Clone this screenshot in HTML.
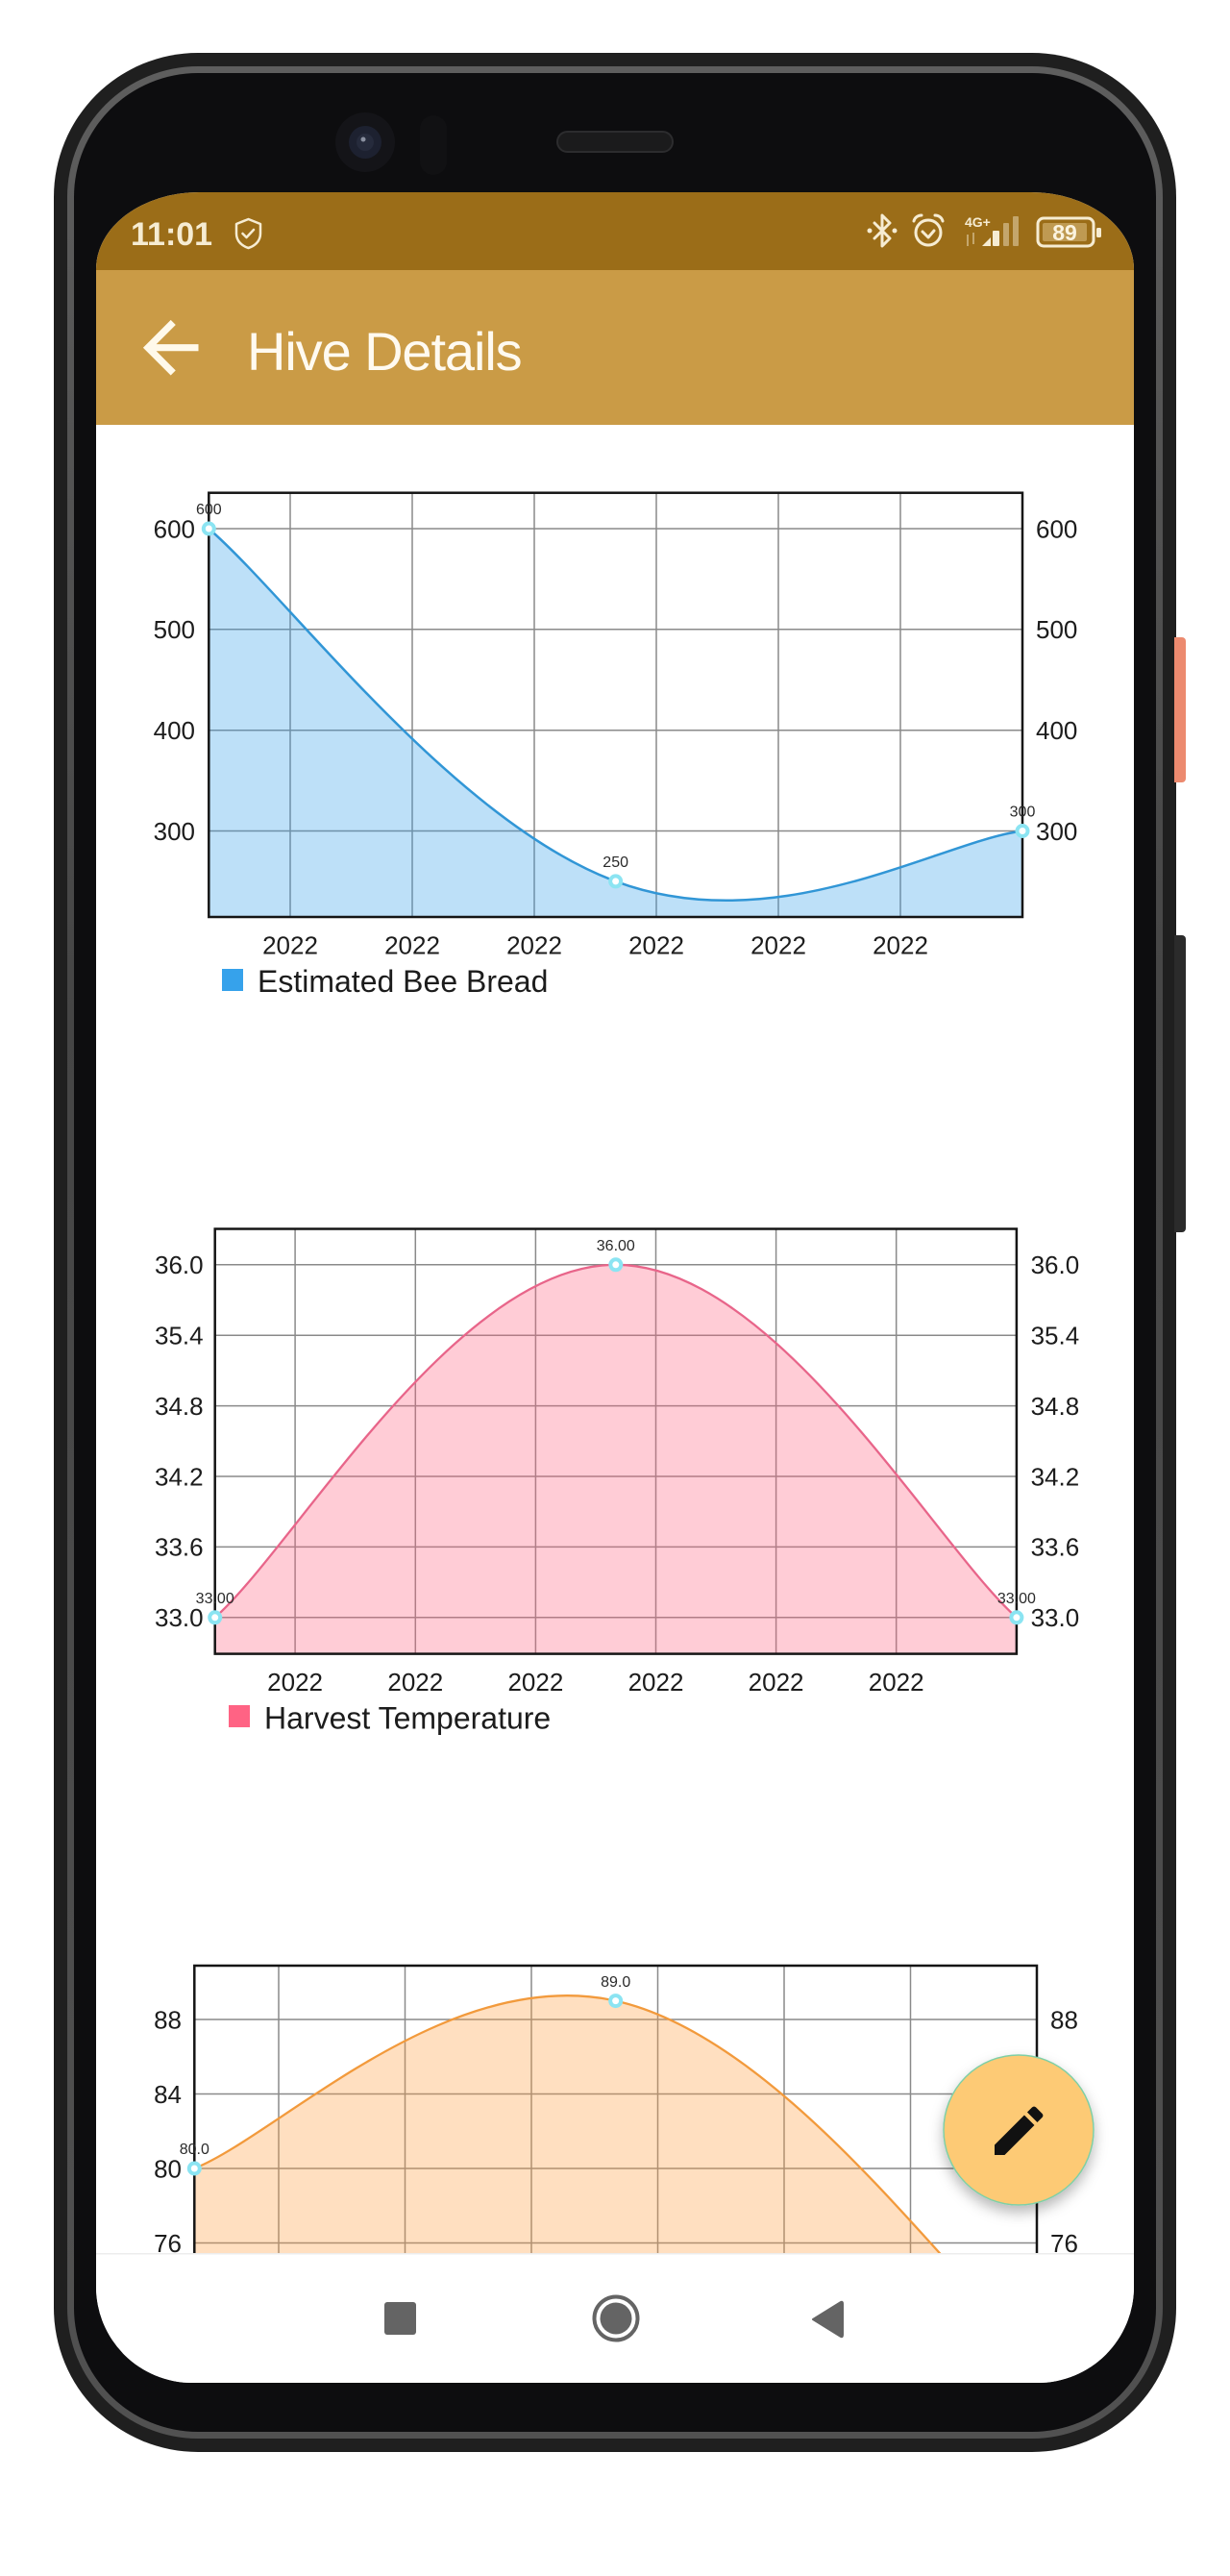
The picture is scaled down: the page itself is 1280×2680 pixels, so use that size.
<!DOCTYPE html>
<html>
<head>
<meta charset="utf-8">
<style>
  html, body { margin:0; padding:0; background:#fff; }
  body { width:1280px; height:2680px; position:relative; overflow:hidden; font-family:"Liberation Sans", sans-serif; }
  .abs { position:absolute; }
  .phone { left:56px; top:55px; width:1168px; height:2496px; border-radius:150px; background:#1f1f1f; }
  .ring { left:70px; top:69px; width:1140px; height:2468px; border-radius:136px; background:linear-gradient(180deg,#5e5e5e,#454545 40%,#515151); }
  .inner { left:77px; top:76px; width:1126px; height:2454px; border-radius:129px; background:#0d0d0f; }
  .btn1 { left:1222px; top:663px; width:12px; height:151px; background:#ec8a6f; border-radius:0 4px 4px 0; }
  .btn2 { left:1222px; top:973px; width:12px; height:309px; background:#2b2b2b; border-radius:0 4px 4px 0; }
  .screen { left:100px; top:200px; width:1080px; height:2279px; overflow:hidden; background:#fff;
            border-radius:107px 107px 100px 100px / 80px 80px 100px 100px; }
</style>
</head>
<body>
<div class="abs phone"></div>
<div class="abs ring"></div>
<div class="abs inner"></div>
<div class="abs btn1"></div>
<div class="abs btn2"></div>

<!-- front camera / sensor / speaker -->
<svg class="abs" style="left:0;top:0" width="1280" height="200" viewBox="0 0 1280 200">
  <circle cx="380" cy="148" r="31" fill="#141418"/>
  <circle cx="380" cy="148" r="17" fill="#1d2130"/>
  <circle cx="380" cy="148" r="9" fill="#262b3c"/>
  <circle cx="378" cy="145" r="2.5" fill="#8a90a0"/>
  <rect x="437" y="120" width="28" height="62" rx="14" fill="#111113"/>
  <rect x="580" y="137" width="120" height="21" rx="10.5" fill="#1b1b1c" stroke="#2c2c2e" stroke-width="2"/>
</svg>

<div class="abs screen">
<svg width="1080" height="2279" viewBox="100 200 1080 2279" style="position:absolute;left:0;top:0">
  <defs>
    <filter id="sh" x="-30%" y="-30%" width="160%" height="170%">
      <feDropShadow dx="0" dy="7" stdDeviation="7" flood-color="#000" flood-opacity="0.28"/>
    </filter>
  </defs>
  <!-- status bar & app bar -->
  <rect x="100" y="200" width="1080" height="81" fill="#9b6d18"/>
  <rect x="100" y="281" width="1080" height="161" fill="#ca9b46"/>

  <!-- status left -->
  <text x="136" y="255" font-family="Liberation Sans, sans-serif" font-weight="bold" font-size="34" fill="#f6ecd2">11:01</text>
  <path d="M258.5 228 L271 233 V243 C271 251 265 256 258.5 258 C252 256 246 251 246 243 V233 Z" fill="none" stroke="#f6ecd2" stroke-width="2.5" stroke-linejoin="round"/>
  <path d="M252.5 243 l4 4 l7.5 -8" fill="none" stroke="#f6ecd2" stroke-width="2.5" stroke-linecap="round" stroke-linejoin="round"/>

  <!-- status right -->
  <g fill="none" stroke="#f6ecd2" stroke-width="3" stroke-linejoin="round" stroke-linecap="round">
    <path d="M910 232 L926 248 L918 256 L918 224 L926 232 L910 248"/>
    <circle cx="966" cy="242" r="13"/>
    <path d="M960 241 l6 6 l6 -7"/>
    <path d="M951 230 a8 8 0 0 1 8 -6"/>
    <path d="M981 230 a8 8 0 0 0 -8 -6"/>
    <rect x="1080" y="227" width="58" height="29" rx="6"/>
  </g>
  <circle cx="905" cy="240" r="2.5" fill="#f6ecd2"/>
  <circle cx="931" cy="240" r="2.5" fill="#f6ecd2"/>
  <text x="1004" y="236" font-family="Liberation Sans, sans-serif" font-weight="bold" font-size="14" fill="#f6ecd2">4G+</text>
  <g fill="#f6ecd2" opacity="0.45">
    <rect x="1006" y="244" width="2" height="12"/>
    <rect x="1012" y="242" width="2" height="12"/>
    <rect x="1044" y="232" width="6" height="24" rx="1"/>
    <rect x="1054" y="225" width="6" height="31" rx="1"/>
  </g>
  <path d="M1022 256 L1031 247 L1031 256 Z" fill="#f6ecd2"/>
  <rect x="1033" y="240" width="7" height="16" rx="1" fill="#f6ecd2"/>
  <rect x="1085" y="232" width="46" height="19" rx="2" fill="#bf9a52"/>
  <rect x="1141" y="237" width="5" height="10" rx="1.5" fill="#f6ecd2"/>
  <text x="1108" y="250" text-anchor="middle" font-family="Liberation Sans, sans-serif" font-weight="bold" font-size="23" fill="#fbf3df">89</text>

  <!-- app bar -->
  <g transform="translate(134.5 318.5) scale(3.6)">
    <path d="M20 11H7.830l5.59-5.59L12 4l-8 8 8 8 1.41-1.41L7.83 13H20v-2z" fill="#fff9ea"/>
  </g>
  <text x="257" y="385" font-family="Liberation Sans, sans-serif" font-size="56" letter-spacing="-1.1" fill="#fffaf0">Hive Details</text>

  <!-- ================= CHART 1 ================= -->
  <g stroke="#8a8a8a" stroke-width="1.5">
    <line x1="217.3" y1="550" x2="1064" y2="550"/>
    <line x1="217.3" y1="654.8" x2="1064" y2="654.8"/>
    <line x1="217.3" y1="759.7" x2="1064" y2="759.7"/>
    <line x1="217.3" y1="864.5" x2="1064" y2="864.5"/>
    <line x1="302" y1="512.7" x2="302" y2="954"/>
    <line x1="429" y1="512.7" x2="429" y2="954"/>
    <line x1="556" y1="512.7" x2="556" y2="954"/>
    <line x1="683" y1="512.7" x2="683" y2="954"/>
    <line x1="810" y1="512.7" x2="810" y2="954"/>
    <line x1="937" y1="512.7" x2="937" y2="954"/>
  </g>
  <path d="M217.3,550 C302,623.4 471.3,854 640.65,916.9 C810,979.8 979.3,875 1064,864.5 L1064,954 L217.3,954 Z" fill="#36a2eb" fill-opacity="0.33"/>
  <path d="M217.3,550 C302,623.4 471.3,854 640.65,916.9 C810,979.8 979.3,875 1064,864.5" fill="none" stroke="#3196d6" stroke-width="2.5"/>
  <rect x="217.3" y="512.7" width="846.7" height="441.3" fill="none" stroke="#151515" stroke-width="2.5"/>
  <g font-family="Liberation Sans, sans-serif" font-size="26" fill="#1c1c1c">
    <g text-anchor="end">
      <text x="203" y="559.3">600</text>
      <text x="203" y="664.1">500</text>
      <text x="203" y="769">400</text>
      <text x="203" y="873.8">300</text>
    </g>
    <text x="1078" y="559.3">600</text>
    <text x="1078" y="664.1">500</text>
    <text x="1078" y="769">400</text>
    <text x="1078" y="873.8">300</text>
    <g text-anchor="middle">
      <text x="302" y="992.7">2022</text>
      <text x="429" y="992.7">2022</text>
      <text x="556" y="992.7">2022</text>
      <text x="683" y="992.7">2022</text>
      <text x="810" y="992.7">2022</text>
      <text x="937" y="992.7">2022</text>
    </g>
  </g>
  <g font-family="Liberation Sans, sans-serif" font-size="16" fill="#2a2a2a" text-anchor="middle">
    <text x="217.3" y="535">600</text>
    <text x="640.65" y="902">250</text>
    <text x="1064" y="849.5">300</text>
  </g>
  <g fill="#8be4f2">
    <circle cx="217.3" cy="550" r="7.5"/>
    <circle cx="640.65" cy="916.9" r="7.5"/>
    <circle cx="1064" cy="864.5" r="7.5"/>
  </g>
  <g fill="#fff">
    <circle cx="217.3" cy="550" r="3.5"/>
    <circle cx="640.65" cy="916.9" r="3.5"/>
    <circle cx="1064" cy="864.5" r="3.5"/>
  </g>
  <rect x="231" y="1008" width="22" height="23" fill="#36a2eb"/>
  <text x="268" y="1032" font-family="Liberation Sans, sans-serif" font-size="32" fill="#1c1c1c">Estimated Bee Bread</text>

  <!-- ================= CHART 2 ================= -->
  <g stroke="#8a8a8a" stroke-width="1.5">
    <line x1="223.7" y1="1315.8" x2="1057.9" y2="1315.8"/>
    <line x1="223.7" y1="1389.2" x2="1057.9" y2="1389.2"/>
    <line x1="223.7" y1="1462.6" x2="1057.9" y2="1462.6"/>
    <line x1="223.7" y1="1536" x2="1057.9" y2="1536"/>
    <line x1="223.7" y1="1609.4" x2="1057.9" y2="1609.4"/>
    <line x1="223.7" y1="1682.8" x2="1057.9" y2="1682.8"/>
    <line x1="307.1" y1="1278.5" x2="307.1" y2="1720.6"/>
    <line x1="432.3" y1="1278.5" x2="432.3" y2="1720.6"/>
    <line x1="557.4" y1="1278.5" x2="557.4" y2="1720.6"/>
    <line x1="682.5" y1="1278.5" x2="682.5" y2="1720.6"/>
    <line x1="807.6" y1="1278.5" x2="807.6" y2="1720.6"/>
    <line x1="932.7" y1="1278.5" x2="932.7" y2="1720.6"/>
  </g>
  <path d="M223.7,1682.8 C307.1,1609.4 474,1315.8 640.8,1315.8 C807.6,1315.8 974.5,1609.4 1057.9,1682.8 L1057.9,1720.6 L223.7,1720.6 Z" fill="#ff6384" fill-opacity="0.33"/>
  <path d="M223.7,1682.8 C307.1,1609.4 474,1315.8 640.8,1315.8 C807.6,1315.8 974.5,1609.4 1057.9,1682.8" fill="none" stroke="#e8658a" stroke-width="2.3"/>
  <rect x="223.7" y="1278.5" width="834.2" height="442.1" fill="none" stroke="#151515" stroke-width="2.5"/>
  <g font-family="Liberation Sans, sans-serif" font-size="26" fill="#1c1c1c">
    <g text-anchor="end">
      <text x="211.6" y="1325.1">36.0</text>
      <text x="211.6" y="1398.5">35.4</text>
      <text x="211.6" y="1471.9">34.8</text>
      <text x="211.6" y="1545.3">34.2</text>
      <text x="211.6" y="1618.7">33.6</text>
      <text x="211.6" y="1692.1">33.0</text>
    </g>
    <text x="1072.6" y="1325.1">36.0</text>
    <text x="1072.6" y="1398.5">35.4</text>
    <text x="1072.6" y="1471.9">34.8</text>
    <text x="1072.6" y="1545.3">34.2</text>
    <text x="1072.6" y="1618.7">33.6</text>
    <text x="1072.6" y="1692.1">33.0</text>
    <g text-anchor="middle">
      <text x="307.1" y="1759">2022</text>
      <text x="432.3" y="1759">2022</text>
      <text x="557.4" y="1759">2022</text>
      <text x="682.5" y="1759">2022</text>
      <text x="807.6" y="1759">2022</text>
      <text x="932.7" y="1759">2022</text>
    </g>
  </g>
  <g font-family="Liberation Sans, sans-serif" font-size="16" fill="#2a2a2a" text-anchor="middle">
    <text x="640.8" y="1301">36.00</text>
    <text x="223.7" y="1668">33.00</text>
    <text x="1057.9" y="1668">33.00</text>
  </g>
  <g fill="#8be4f2">
    <circle cx="223.7" cy="1682.8" r="7.5"/>
    <circle cx="640.8" cy="1315.8" r="7.5"/>
    <circle cx="1057.9" cy="1682.8" r="7.5"/>
  </g>
  <g fill="#fff">
    <circle cx="223.7" cy="1682.8" r="3.5"/>
    <circle cx="640.8" cy="1315.8" r="3.5"/>
    <circle cx="1057.9" cy="1682.8" r="3.5"/>
  </g>
  <rect x="238" y="1774" width="22" height="23" fill="#ff6384"/>
  <text x="275" y="1798.6" font-family="Liberation Sans, sans-serif" font-size="32" fill="#1c1c1c">Harvest Temperature</text>

  <!-- ================= CHART 3 ================= -->
  <g stroke="#8a8a8a" stroke-width="1.5">
    <line x1="202.3" y1="2101" x2="1079" y2="2101"/>
    <line x1="202.3" y1="2178.5" x2="1079" y2="2178.5"/>
    <line x1="202.3" y1="2256" x2="1079" y2="2256"/>
    <line x1="202.3" y1="2333.5" x2="1079" y2="2333.5"/>
    <line x1="202.3" y1="2411" x2="1079" y2="2411"/>
    <line x1="290" y1="2045" x2="290" y2="2480"/>
    <line x1="421.5" y1="2045" x2="421.5" y2="2480"/>
    <line x1="553" y1="2045" x2="553" y2="2480"/>
    <line x1="684.5" y1="2045" x2="684.5" y2="2480"/>
    <line x1="816" y1="2045" x2="816" y2="2480"/>
    <line x1="947.5" y1="2045" x2="947.5" y2="2480"/>
  </g>
  <path d="M202.3,2256 C290,2221.1 465.3,2042.9 640.65,2081.6 C816,2120.4 991.3,2376.1 1079,2449.75 L1079,2480 L202.3,2480 Z" fill="#ff9f40" fill-opacity="0.33"/>
  <path d="M202.3,2256 C290,2221.1 465.3,2042.9 640.65,2081.6 C816,2120.4 991.3,2376.1 1079,2449.75" fill="none" stroke="#f29a3c" stroke-width="2.3"/>
  <rect x="202.3" y="2045" width="876.7" height="435" fill="none" stroke="#151515" stroke-width="2.5"/>
  <g font-family="Liberation Sans, sans-serif" font-size="26" fill="#1c1c1c">
    <g text-anchor="end">
      <text x="189" y="2110.3">88</text>
      <text x="189" y="2187.8">84</text>
      <text x="189" y="2265.3">80</text>
      <text x="189" y="2342.8">76</text>
    </g>
    <text x="1093" y="2110.3">88</text>
    <text x="1093" y="2187.8">84</text>
    <text x="1093" y="2265.3">80</text>
    <text x="1093" y="2342.8">76</text>
  </g>
  <g font-family="Liberation Sans, sans-serif" font-size="16" fill="#2a2a2a" text-anchor="middle">
    <text x="202.3" y="2241">80.0</text>
    <text x="640.65" y="2067">89.0</text>
  </g>
  <g fill="#8be4f2">
    <circle cx="202.3" cy="2256" r="7.5"/>
    <circle cx="640.65" cy="2081.6" r="7.5"/>
  </g>
  <g fill="#fff">
    <circle cx="202.3" cy="2256" r="3.5"/>
    <circle cx="640.65" cy="2081.6" r="3.5"/>
  </g>

  <!-- FAB -->
  <g filter="url(#sh)">
    <circle cx="1060" cy="2216" r="78" fill="#fdca75" stroke="#7fcfa6" stroke-width="1.5"/>
  </g>
  <g transform="translate(1026.6 2183.2) scale(2.8)">
    <path d="M3 17.25V21h3.75L17.81 9.94l-3.75-3.75L3 17.25zM20.71 7.04c.39-.39.39-1.020 0-1.41l-2.34-2.34c-.39-.39-1.02-.39-1.41 0l-1.83 1.83 3.75 3.75 1.83-1.83z" fill="#111"/>
  </g>

  <!-- nav bar -->
  <rect x="100" y="2345" width="1080" height="140" fill="#fff"/>
  <rect x="100" y="2344" width="1080" height="1.5" fill="#ececec"/>
  <rect x="400" y="2395" width="33" height="34" rx="3" fill="#646464"/>
  <circle cx="641" cy="2412" r="22.5" fill="none" stroke="#646464" stroke-width="4"/>
  <circle cx="641" cy="2412" r="16.5" fill="#646464"/>
  <path d="M846 2413 L875 2395 Q877 2394 877 2397 L877 2429 Q877 2432 875 2431 Z" fill="#646464" stroke="#646464" stroke-width="2" stroke-linejoin="round"/>
</svg>
</div>
</body>
</html>
